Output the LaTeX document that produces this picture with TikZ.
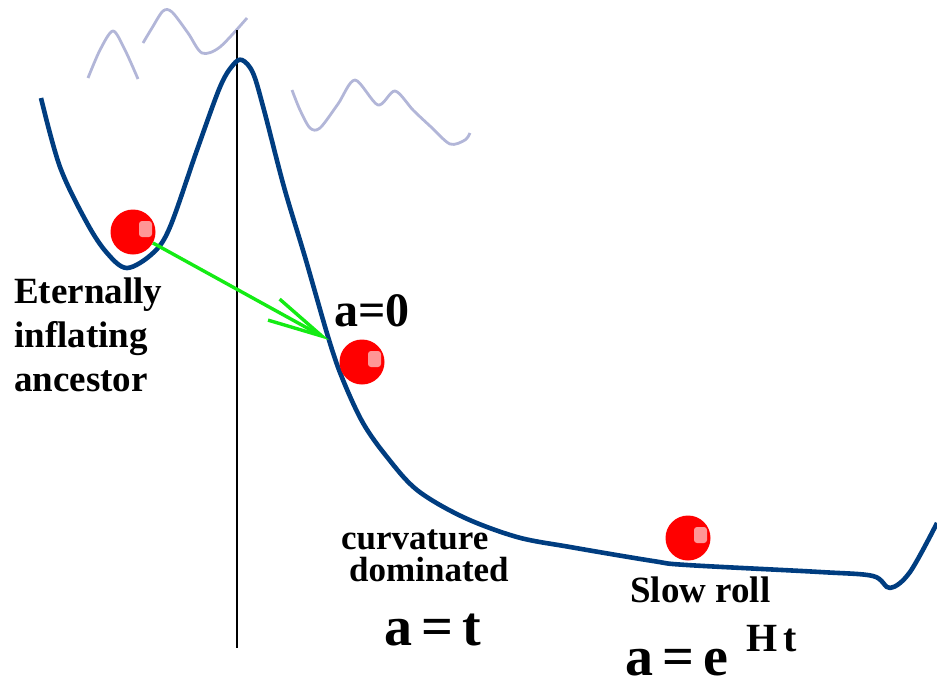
\documentclass[tikz,border=0pt]{standalone}
\usepackage{fontspec}
\setmainfont{Liberation Serif}
\usetikzlibrary{arrows.meta}
\definecolor{curvecol}{RGB}{0,61,128}
\definecolor{wavecol}{RGB}{178,182,216}
\definecolor{arrowcol}{RGB}{20,235,20}
\definecolor{hilite}{RGB}{255,150,150}
\tikzset{
  curve/.style={draw=curvecol, line width=4.6pt, line join=round},
  wave/.style={draw=wavecol, line width=2.8pt, line join=round},
  ball/.style={circle, fill=red, minimum size=45pt, inner sep=0pt},
  hl/.style={fill=hilite, rounded corners=3pt},
  jump/.style={draw=arrowcol, line width=3.4pt, -{Straight Barb[length=55pt, width=24pt, line width=3.4pt]}},
  lbl/.style={font=\bfseries\fontsize{37}{40}\selectfont, inner sep=0pt, anchor=base west},
  big/.style={font=\bfseries\fontsize{56}{60}\selectfont, inner sep=0pt, anchor=base west},
}
\begin{document}
\begin{tikzpicture}[x=1pt,y=-1pt]
\useasboundingbox (0,0) rectangle (937,683);
% background waves
\draw[wave] plot[smooth, tension=0.5] coordinates {(88,78) (100,50) (113,31) (125,50) (138,79)};
\draw[wave] plot[smooth, tension=0.5] coordinates {(143,43) (152,28) (163,11) (172,12) (188,33) (202,53) (220,47) (247,18)};
\draw[wave] plot[smooth, tension=0.5] coordinates {(292,90) (300,110) (310,128) (320,128) (338,104) (355,80) (378,105) (395,91) (413,110) (430,126) (450,144) (465,140) (470,133)};
% vertical line
\coordinate (vt) at (237,30);
\coordinate (vb) at (237,648);
\draw[black, line width=1.1pt] (vt) -- (vb);
% potential
\draw[curve] plot[smooth, tension=0.55] coordinates {(41,98) (60,167) (87,223) (107,253) (127,268) (153,253) (170,227) (197,150) (220,87) (233,65) (242,60) (253,73) (264,110) (284,187) (305,257) (329,340) (343,380) (363,423) (387,457) (417,490) (463,517) (517,537) (570,547) (653,561) (687,565) (820,572) (873,576) (890,588) (910,572) (937,523)};
% balls
\node[ball] (b1) at (133,232) {};
\fill[hl] (139,221) rectangle (152,237);
\node[ball] (b2) at (362,362) {};
\fill[hl] (368,351) rectangle (381,367);
\node[ball] (b3) at (688,538) {};
\fill[hl] (694,527) rectangle (707,543);
% arrow
\coordinate (land) at (329,340);
\draw[jump] (b1) -- (land);
% labels
\node[lbl] (t1) at (14,303) {Eternally};
\node[lbl] (t2) at (14,347) {inflating};
\node[lbl] (t3) at (14,391) {ancestor};
\node[lbl, font=\bfseries\fontsize{48}{50}\selectfont] (t4) at (334,326) {a=0};
\node[lbl, font=\bfseries\fontsize{35}{38}\selectfont] (t5) at (341,549) {curvature};
\node[lbl, font=\bfseries\fontsize{35}{38}\selectfont] (t6) at (349,581) {dominated};
\node[lbl] (t7) at (630,602) {Slow roll};
\node[big] (t8) at (384,645) {a\,=\,t};
\node[big] (t9) at (625,675) {a\,=\,e};
\node[lbl, font=\bfseries\fontsize{40}{42}\selectfont] (t10) at (746,651) {H\,t};
\end{tikzpicture}
\end{document}
